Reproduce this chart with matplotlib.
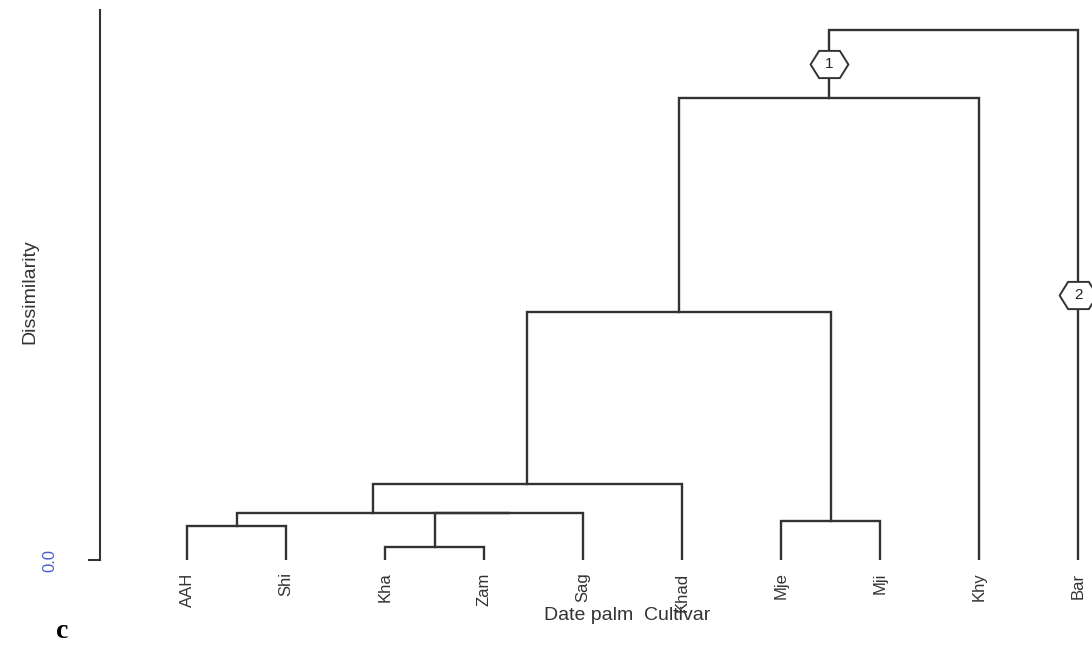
import numpy as np
import matplotlib
matplotlib.use('Agg')
import matplotlib.pyplot as plt
from matplotlib.path import Path

plt.rcParams['font.family'] = ['Liberation Sans Narrow', 'Liberation Sans', 'DejaVu Sans']

# cultivars in leaf order
cultivars = ['AAH', 'Shi', 'Kha', 'Zam', 'Sag', 'Khad', 'Mje', 'Mji', 'Khy', 'Bar']

# merges (scipy-like): new cluster ids start at len(cultivars)
merge_a = [2, 0, 6, 10, 11, 14, 15, 16, 17]
merge_b = [3, 1, 7, 4, 13, 5, 12, 8, 9]
merge_h = [0.025, 0.064, 0.074, 0.089, 0.089, 0.143, 0.468, 0.872, 1.0]

# numbered hexagons on the two branches below the root
hex_nodes = [17, 9]
hex_labels = ['1', '2']

line_col = '#333333'

fig = plt.figure(figsize=(10.92, 6.49), dpi=100)
ax = fig.add_axes([100/1092, 89/649, 992/1092, 550/649])

n = len(cultivars)
xpos = list(range(n))
hpos = [0.0]*n
parent_h = {}
for a, b, h in zip(merge_a, merge_b, merge_h):
    xa, xb = xpos[a], xpos[b]
    ax.plot([xa, xa, xb, xb], [hpos[a], h, h, hpos[b]], color=line_col, lw=1.7,
            solid_joinstyle='miter', solid_capstyle='projecting')
    parent_h[a] = h
    parent_h[b] = h
    xpos.append((xa + xb)/2)
    hpos.append(h)

# stretched hexagon marker (flat top, pointed sides)
hexagon = Path([(-1, 0), (-0.55, 0.72), (0.55, 0.72), (1, 0), (0.55, -0.72),
                (-0.55, -0.72), (-1, 0)], closed=True)
for node, lab in zip(hex_nodes, hex_labels):
    x = xpos[node]
    y = (hpos[node] + parent_h[node])/2
    ax.scatter([x], [y], marker=hexagon, s=740, facecolor='white',
               edgecolor=line_col, linewidths=1.4, zorder=3, clip_on=False)
    ax.text(x, y, lab, ha='center', va='center', fontsize=11, color='#222222', zorder=4)

ax.set_xlim(-0.879, 9.14)
ax.set_ylim(0, 1.0377)

for s in ['top', 'right', 'bottom']:
    ax.spines[s].set_visible(False)
ax.spines['left'].set_color(line_col)
ax.spines['left'].set_linewidth(1.5)

ax.set_xticks(range(n))
ax.set_xticklabels(cultivars, rotation=90, fontsize=12, color='#333333', va='top')
ax.tick_params(axis='x', length=0, pad=9)

ax.set_yticks([0])
ax.set_yticklabels(['0.0'], rotation=90, fontsize=12, color='#4a5bd0', va='center')
ax.tick_params(axis='y', length=8.6, width=1.5, color=line_col, pad=22)

fig.text(627/1092, 1 - 616/649, 'Date palm  Cultivar', ha='center', va='center',
         fontsize=14, color='#333333')
fig.text(30/1092, 1 - 292/649, 'Dissimilarity', rotation=90, ha='center', va='center',
         fontsize=14, color='#333333')
fig.text(62/1092, 1 - 631/649, 'c', ha='center', va='center', fontsize=20,
         fontweight='bold', family='Liberation Serif')

fig.savefig('out.png', dpi=100)
